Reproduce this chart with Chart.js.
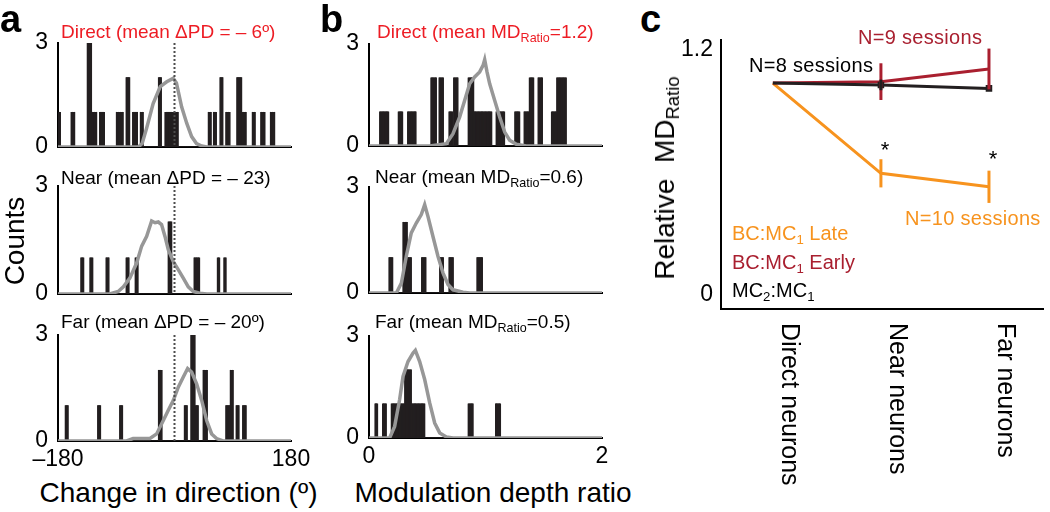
<!DOCTYPE html>
<html>
<head>
<meta charset="utf-8">
<script src="https://cdn.jsdelivr.net/npm/chart.js@4.4.1/dist/chart.umd.min.js"></script>
<style>
html, body { margin: 0; padding: 0; background: #fff; }
#fig { position: relative; width: 1050px; height: 512px; overflow: hidden; font-family: 'Liberation Sans', Arial, Helvetica, sans-serif; }
.box { position: absolute; }
.t { position: absolute; white-space: nowrap; line-height: 1; }
.t sub { font-size: 66%; vertical-align: -0.28em; line-height: 0; }
</style>
</head>
<body>
<div id="fig"></div>
<script>
// ---- panel a : change in preferred direction (deg), bars = [left edge, right edge, count]
const aDirectLeft  = [-180, -160, -135, -128, -116, -90, -75, -65, -53, -25, -14.7, 52, 60, 70, 79.5, 96, 104, 120, 133.5, 148.5];
const aDirectRight = [-176, -154, -128, -120, -108, -79, -69, -57, -48, -19.8, 6, 57.4, 65, 75.5, 86, 104, 111.5, 125.5, 140, 155.5];
const aDirectCount = [1, 1, 3, 1, 1, 1, 2, 1, 1, 2, 1, 1, 1, 2, 1, 2, 1, 1, 1, 1];
const aDirectCurveX = [-180, -56, -50, -43, -33, -22, -12, -2, 3, 11, 19, 26.5, 34, 42, 50, 180];
const aDirectCurveY = [0, 0, 0.1, 0.55, 1.25, 1.74, 1.88, 1.98, 1.85, 1.16, 0.68, 0.3, 0.1, 0.03, 0, 0];

const aNearLeft  = [-144.5, -130.5, -106, -75, -61, -9.6, 30, 66, 76];
const aNearRight = [-139.5, -125.5, -100.5, -70, -56, -4.4, 39.5, 70.5, 80.5];
const aNearCount = [1, 1, 1, 1, 1, 2, 1, 1, 1];
const aNearCurveX = [-180, -100, -87, -79, -69, -58.5, -50.7, -43, -35.3, -30, -25, -20, -14.7, -9.6, -1.8, 6, 13.6, 21.3, 29, 39, 50, 180];
const aNearCurveY = [0, 0, 0.07, 0.2, 0.44, 0.86, 1.33, 1.6, 2.03, 1.98, 2.0, 1.93, 1.6, 1.23, 0.9, 0.67, 0.44, 0.2, 0.07, 0.02, 0, 0];

const aFarLeft  = [-169, -119, -85.3, -24.5, 15.2, 25.5, 31.6, 44.5, 79.5, 85.7, 95, 105.3];
const aFarRight = [-164, -114, -80, -19.3, 20.3, 31.6, 36.8, 50.7, 85.7, 91, 100, 111.5];
const aFarCount = [1, 1, 1, 2, 1, 3, 1, 2, 1, 2, 1, 1];
const aFarCurveX = [-180, -74, -64, -38, -27.6, -17.3, -9.6, -1.8, 6, 13.6, 20.3, 26.5, 34.2, 42, 49.7, 57.4, 65, 75, 180];
const aFarCurveY = [0, 0, 0.07, 0.07, 0.2, 0.58, 0.87, 1.15, 1.53, 1.81, 2.05, 1.95, 1.62, 1.15, 0.58, 0.2, 0.07, 0, 0];

// ---- panel b : modulation depth ratio
const bDirectLeft  = [0.092, 0.249, 0.329, 0.529, 0.601, 0.687, 0.727, 0.850, 0.898, 1.088, 1.25, 1.331, 1.373, 1.451, 1.566, 1.609];
const bDirectRight = [0.172, 0.292, 0.406, 0.578, 0.641, 0.721, 0.764, 0.898, 1.055, 1.165, 1.293, 1.373, 1.414, 1.489, 1.609, 1.695];
const bDirectCount = [1, 1, 1, 2, 2, 1, 2, 2, 1, 1, 1, 1, 2, 2, 1, 2];
const bDirectCurveX = [0, 0.52, 0.664, 0.721, 0.778, 0.821, 0.864, 0.907, 0.95, 0.979, 0.993, 1.013, 1.036, 1.079, 1.122, 1.165, 1.207, 1.265, 1.35, 2];
const bDirectCurveY = [0, 0, 0.07, 0.36, 0.85, 1.34, 1.83, 2.03, 2.18, 2.37, 2.54, 2.18, 1.83, 1.34, 0.85, 0.41, 0.17, 0.05, 0, 0];

const bNearLeft  = [0.172, 0.292, 0.329, 0.449, 0.607, 0.684, 0.927];
const bNearRight = [0.206, 0.329, 0.363, 0.492, 0.641, 0.727, 0.973];
const bNearCount = [1, 2, 1, 1, 1, 1, 1];
const bNearCurveX = [0, 0.235, 0.278, 0.32, 0.363, 0.406, 0.449, 0.478, 0.506, 0.549, 0.592, 0.635, 0.678, 0.721, 0.807, 0.864, 2];
const bNearCurveY = [0, 0, 0.28, 1.04, 1.7, 1.98, 2.22, 2.5, 2.17, 1.6, 1.04, 0.57, 0.24, 0.09, 0.02, 0, 0];

const bFarLeft  = [0.049, 0.115, 0.192, 0.306, 0.367, 0.85, 1.085];
const bFarRight = [0.077, 0.149, 0.306, 0.367, 0.478, 0.893, 1.128];
const bFarCount = [1, 1, 1, 2, 1, 1, 1];
const bFarCurveX = [0, 0.177, 0.22, 0.263, 0.292, 0.335, 0.378, 0.398, 0.435, 0.478, 0.521, 0.564, 0.607, 0.664, 0.721, 2];
const bFarCurveY = [0, 0, 0.34, 1.13, 1.81, 2.25, 2.5, 2.58, 2.25, 1.72, 1.03, 0.44, 0.15, 0.03, 0, 0];

// ---- panel c : relative MD ratio
const cCategories = ['Direct neurons', 'Near neurons', 'Far neurons'];
const cLateMean  = [1.038, 0.596, 0.53];
const cLateErr   = [0, 0.069, 0.079];
const cEarlyMean = [1.038, 1.045, 1.107];
const cEarlyErr  = [0, 0.09, 0.1];
const cMC2Mean   = [1.038, 1.029, 1.012];
const cMC2Err    = [0, 0.026, 0];
const cYTicks = [0, 1.2];

Chart.defaults.font.family = "'Liberation Sans', Arial, Helvetica, sans-serif";
Chart.defaults.color = '#000';
Chart.defaults.animation = false;

const fig = document.getElementById('fig');
const INK = '#231f20', GREY = '#979797', RED = '#ed1c24', DARKRED = '#a91f2f', ORANGE = '#f7931e';
const YW = 40, PT = 14, PR = 26;

function addBox(l, t, w, h) {
    const d = document.createElement('div');
    d.className = 'box';
    Object.assign(d.style, {left: l + 'px', top: t + 'px', width: w + 'px', height: h + 'px'});
    const c = document.createElement('canvas');
    d.appendChild(c);
    fig.appendChild(d);
    return c;
}

function put(html, x, base, size, opt = {}) {
    const d = document.createElement('div');
    d.className = 't';
    d.innerHTML = html;
    d.style.fontSize = size + 'px';
    d.style.color = opt.color || '#000';
    if (opt.bold) d.style.fontWeight = 'bold';
    if (opt.spacing) d.style.letterSpacing = opt.spacing + 'px';
    if (opt.rotate) {
        // x, base = centre of the rotated text
        d.style.left = x + 'px';
        d.style.top = base + 'px';
        d.style.transform = 'translate(-50%,-50%) rotate(-90deg)';
    } else {
        d.style.left = x + 'px';
        d.style.top = (base - 0.8465 * size) + 'px';
        if (opt.center) d.style.transform = 'translateX(-50%)';
    }
    fig.appendChild(d);
}

// expand bar edges into fine equal bins so the library lays the bars out
function binCounts(left, right, count, min, max, step) {
    const pts = [];
    const n = Math.round((max - min) / step);
    for (let k = 0; k < n; k++) {
        const c = min + (k + 0.5) * step;
        let y = 0;
        left.forEach((lo, i) => { if (c >= lo && c < right[i]) y += count[i]; });
        pts.push({x: c, y: y});
    }
    return pts;
}

const zeroLinePlugin = {
    id: 'zeroLine',
    afterDatasetsDraw(chart, args, opts) {
        if (!opts.show) return;
        const {ctx, chartArea, scales} = chart;
        const x = scales.x.getPixelForValue(0);
        ctx.save();
        ctx.strokeStyle = '#4d4d4d';
        ctx.lineWidth = 2;
        ctx.setLineDash([2, 2]);
        ctx.beginPath();
        ctx.moveTo(x, chartArea.top);
        ctx.lineTo(x, chartArea.bottom);
        ctx.stroke();
        ctx.restore();
    }
};

function histogram(p) {
    const XH = p.xTicks ? 36 : 14;
    const canvas = addBox(p.l - YW, p.t - PT, p.r - p.l + YW + PR, p.b - p.t + PT + XH);
    return new Chart(canvas, {
        type: 'bar',
        data: {
            datasets: [{
                type: 'line',
                data: p.cx.map((x, i) => ({x: x, y: p.cy[i]})),
                borderColor: GREY,
                borderWidth: 3.5,
                pointRadius: 0,
                tension: 0,
                order: 0
            }, {
                type: 'bar',
                data: binCounts(p.left, p.right, p.count, p.min, p.max, p.step),
                backgroundColor: INK,
                borderWidth: 0,
                barPercentage: 1,
                categoryPercentage: 1,
                inflateAmount: 0.4,
                order: 1
            }]
        },
        options: {
            responsive: true,
            maintainAspectRatio: false,
            events: [],
            layout: {padding: {top: PT, right: PR, left: 0, bottom: 0}},
            plugins: {legend: {display: false}, tooltip: {enabled: false}, zeroLine: {show: !!p.zero}},
            scales: {
                x: {
                    type: 'linear', min: p.min, max: p.max, offset: false,
                    grid: {display: false, drawTicks: false},
                    border: {display: true, color: '#000', width: 2},
                    ticks: {
                        display: !!p.xTicks, autoSkip: false, maxRotation: 0, padding: 5,
                        font: {size: 23}, color: '#000',
                        callback: v => (v < 0 ? '\u2013' + Math.abs(v) : String(v))
                    },
                    afterBuildTicks: s => { s.ticks = (p.xTicks || [p.min, p.max]).map(v => ({value: v})); },
                    afterFit: s => { s.height = XH; s.paddingLeft = 0; s.paddingRight = 0; }
                },
                y: {
                    min: 0, max: 3,
                    grid: {display: false, drawTicks: false},
                    border: {display: true, color: '#000', width: 2},
                    ticks: {padding: 10, font: {size: 23}, color: '#000'},
                    afterBuildTicks: s => { s.ticks = [{value: 0}, {value: 3}]; },
                    afterFit: s => { s.width = YW; s.paddingTop = 0; s.paddingBottom = 0; }
                }
            }
        },
        plugins: [zeroLinePlugin]
    });
}

// column a
histogram({l: 58, r: 291, t: 43, b: 147, min: -180, max: 180, step: 1, zero: true,
    left: aDirectLeft, right: aDirectRight, count: aDirectCount, cx: aDirectCurveX, cy: aDirectCurveY});
histogram({l: 58, r: 291, t: 186, b: 294, min: -180, max: 180, step: 1, zero: true,
    left: aNearLeft, right: aNearRight, count: aNearCount, cx: aNearCurveX, cy: aNearCurveY});
histogram({l: 58, r: 291, t: 335, b: 441, min: -180, max: 180, step: 1, zero: true, xTicks: [-180, 180],
    left: aFarLeft, right: aFarRight, count: aFarCount, cx: aFarCurveX, cy: aFarCurveY});

// column b
histogram({l: 369, r: 602, t: 44, b: 146, min: 0, max: 2, step: 0.005,
    left: bDirectLeft, right: bDirectRight, count: bDirectCount, cx: bDirectCurveX, cy: bDirectCurveY});
histogram({l: 369, r: 602, t: 187, b: 293, min: 0, max: 2, step: 0.005,
    left: bNearLeft, right: bNearRight, count: bNearCount, cx: bNearCurveX, cy: bNearCurveY});
histogram({l: 369, r: 602, t: 336, b: 438, min: 0, max: 2, step: 0.005, xTicks: [0, 2],
    left: bFarLeft, right: bFarRight, count: bFarCount, cx: bFarCurveX, cy: bFarCurveY});

// panel c
const errorBarPlugin = {
    id: 'errorBars',
    afterDatasetsDraw(chart) {
        const {ctx, scales} = chart;
        ctx.save();
        for (let d = chart.data.datasets.length - 1; d >= 0; d--) {
            const ds = chart.data.datasets[d];
            ctx.strokeStyle = ds.borderColor;
            ctx.lineWidth = 3;
            ds.err.forEach((e, i) => {
                if (!e) return;
                const x = scales.x.getPixelForValue(i);
                ctx.beginPath();
                ctx.moveTo(x, scales.y.getPixelForValue(ds.data[i].y - e));
                ctx.lineTo(x, scales.y.getPixelForValue(ds.data[i].y + e));
                ctx.stroke();
            });
        }
        ctx.restore();
    }
};

const categoryLabelPlugin = {
    id: 'categoryLabels',
    afterDraw(chart) {
        const {ctx, scales} = chart;
        ctx.save();
        ctx.font = "25px 'Liberation Sans', Arial, sans-serif";
        ctx.fillStyle = '#000';
        ctx.textAlign = 'left';
        ctx.textBaseline = 'middle';
        cCategories.forEach((lab, i) => {
            ctx.save();
            ctx.translate(scales.x.getPixelForValue(i) + 16, scales.y.bottom + 14);
            ctx.rotate(Math.PI / 2);
            ctx.fillText(lab, 0, 0);
            ctx.restore();
        });
        ctx.restore();
    }
};

(function() {
    const YWc = 50, top = 40, bottom = 309;
    const canvas = addBox(721 - YWc, top - PT, 1050 - (721 - YWc), 512 - (top - PT));
    const series = (mean, err, color, extra) => Object.assign({
        data: mean.map((v, i) => ({x: i, y: v})),
        err: err,
        borderColor: color,
        backgroundColor: color,
        borderWidth: 3,
        pointRadius: 0,
        tension: 0
    }, extra);
    new Chart(canvas, {
        type: 'line',
        data: {
            datasets: [
                series(cMC2Mean, cMC2Err, INK, {label: 'MC2:MC1', pointRadius: [0, 2.5, 2.5], pointStyle: 'rect', order: 0}),
                series(cEarlyMean, cEarlyErr, DARKRED, {label: 'BC:MC1 Early', order: 1}),
                series(cLateMean, cLateErr, ORANGE, {label: 'BC:MC1 Late', order: 2})
            ]
        },
        options: {
            responsive: true,
            maintainAspectRatio: false,
            events: [],
            layout: {padding: {top: PT, right: 0, left: 0, bottom: 0}},
            plugins: {legend: {display: false}, tooltip: {enabled: false}},
            scales: {
                x: {
                    type: 'linear', min: -0.48, max: 2.5,
                    grid: {display: false, drawTicks: false},
                    border: {display: true, color: '#000', width: 2},
                    ticks: {display: false},
                    afterFit: s => { s.height = 512 - bottom; s.paddingLeft = 0; s.paddingRight = 0; }
                },
                y: {
                    min: -0.0686, max: 1.249,
                    grid: {display: false, drawTicks: false},
                    border: {display: true, color: '#000', width: 2},
                    ticks: {padding: 8, font: {size: 23}, color: '#000'},
                    afterBuildTicks: s => { s.ticks = cYTicks.map(v => ({value: v})); },
                    afterFit: s => { s.width = YWc; s.paddingTop = 0; s.paddingBottom = 0; }
                }
            }
        },
        plugins: [errorBarPlugin, categoryLabelPlugin]
    });
})();

// ---- text
put('a', 0, 32, 38, {bold: true});
put('b', 320, 32, 38, {bold: true});
put('c', 640, 32, 38, {bold: true});

put('Direct (mean \u0394PD = \u2013 6\u00ba)', 61, 38.5, 19, {color: RED});
put('Near (mean \u0394PD = \u2013 23)', 61, 184.5, 19);
put('Far (mean \u0394PD = \u2013 20\u00ba)', 61, 328.5, 19);
put('Direct (mean MD<sub>Ratio</sub>=1.2)', 377, 38.5, 19, {color: RED});
put('Near (mean MD<sub>Ratio</sub>=0.6)', 375, 183.5, 19);
put('Far (mean MD<sub>Ratio</sub>=0.5)', 375, 328.5, 19);

put('Counts', 15, 241, 28, {rotate: true});
put('Change in direction (\u00ba)', 178.5, 503, 28, {center: true});
put('Modulation depth ratio', 493, 503, 28, {center: true});

put('Relative&nbsp; MD<sub>Ratio</sub>', 665, 178, 28, {rotate: true});
put('N=9 sessions', 858, 43.5, 20, {color: DARKRED, spacing: 0.3});
put('N=8 sessions', 749, 71.5, 20, {spacing: 0.3});
put('N=10 sessions', 905, 225, 20, {color: ORANGE, spacing: 0.3});
put('*', 885, 158, 22, {center: true});
put('*', 993, 167, 22, {center: true});
put('BC:MC<sub>1</sub> Late', 732, 240, 20, {color: ORANGE});
put('BC:MC<sub>1</sub> Early', 732, 268.5, 20, {color: DARKRED});
put('MC<sub>2</sub>:MC<sub>1</sub>', 732, 297, 20);
</script>
</body>
</html>
